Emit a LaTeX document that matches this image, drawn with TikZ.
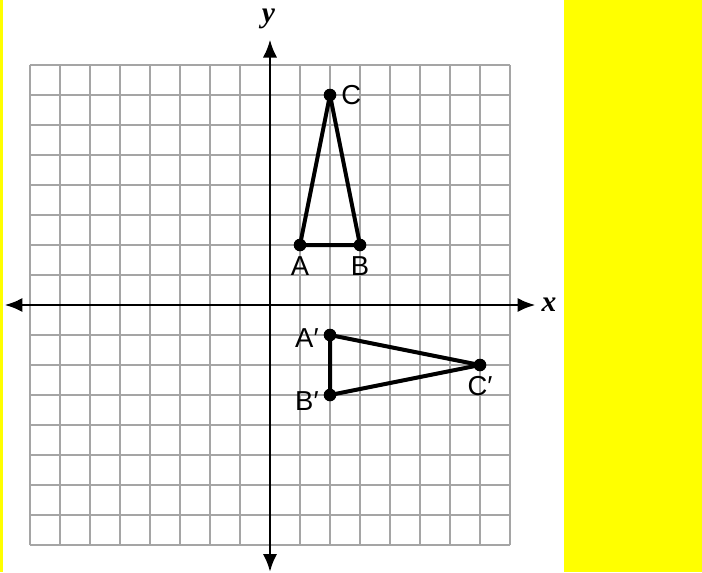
\documentclass[tikz,border=0pt]{standalone}
\usepackage{fontspec}
\setmainfont{Liberation Sans}
\newfontfamily\axisfont{Liberation Serif}
\usepackage{tikz}
\usetikzlibrary{arrows.meta}

\definecolor{gridgray}{RGB}{165,165,165}
\definecolor{sideyellow}{RGB}{255,255,0}

\tikzset{
  pt/.style={circle, fill=black, inner sep=0pt, minimum size=0.21cm},
  ptlabel/.style={font=\fontsize{13}{15}\selectfont, inner sep=1pt},
  axislabel/.style={font=\axisfont\bfseries\itshape\fontsize{14}{16}\selectfont, inner sep=0pt},
  tri/.style={line width=1.9pt},
}

\begin{document}
\begin{tikzpicture}[x=0.5cm, y=0.5cm, >={Latex[length=3mm, width=2.4mm]}]

\useasboundingbox (-9,-8.9) rectangle (14.4,10.167);
\fill[white] (-9,-8.9) rectangle (14.4,10.167);
\fill[sideyellow] (-9,-8.9) rectangle (-8.9,10.167);
\fill[sideyellow] (9.8,-8.9) rectangle (14.4,10.167);

% Grid
\draw[gridgray, line width=0.9pt, step={(1,1)}] (-8,-8) grid (8,8);

% Axes
\node[axislabel] (xl) at (9.3,0) {x};
\node[axislabel] (yl) at (-0.05,9.55) {y};
\coordinate (xmin) at (-8.85,0);
\coordinate (xmax) at (8.85,0);
\coordinate (ymin) at (0,-8.9);
\coordinate (ymax) at (0,8.85);
\draw[<->, line width=1.4pt] (xmin) -- (xmax);
\draw[<->, line width=1.4pt] (ymin) -- (ymax);

% Nodes
\node[pt] (A) at (1,2) {};
\node[pt] (B) at (3,2) {};
\node[pt] (C) at (2,7) {};
\node[pt] (A1) at (2,-1) {};
\node[pt] (B1) at (2,-3) {};
\node[pt] (C1) at (7,-2) {};

% Labels
\node[ptlabel, below=1pt] at (A.south) {A};
\node[ptlabel, below=1pt] at (B.south) {B};
\node[ptlabel, right=1pt] at (C.east) {C};
\node[ptlabel, left=1pt, yshift=-1.5pt] at (A1.west) {A′};
\node[ptlabel, left=1pt, yshift=-3pt] at (B1.west) {B′};
\node[ptlabel, below=1pt] at (C1.south) {C′};

% Triangles
\draw[tri, line join=round] (A.center) -- (B.center) -- (C.center) -- cycle;
\draw[tri, line join=round] (A1.center) -- (B1.center) -- (C1.center) -- cycle;

\end{tikzpicture}
\end{document}
